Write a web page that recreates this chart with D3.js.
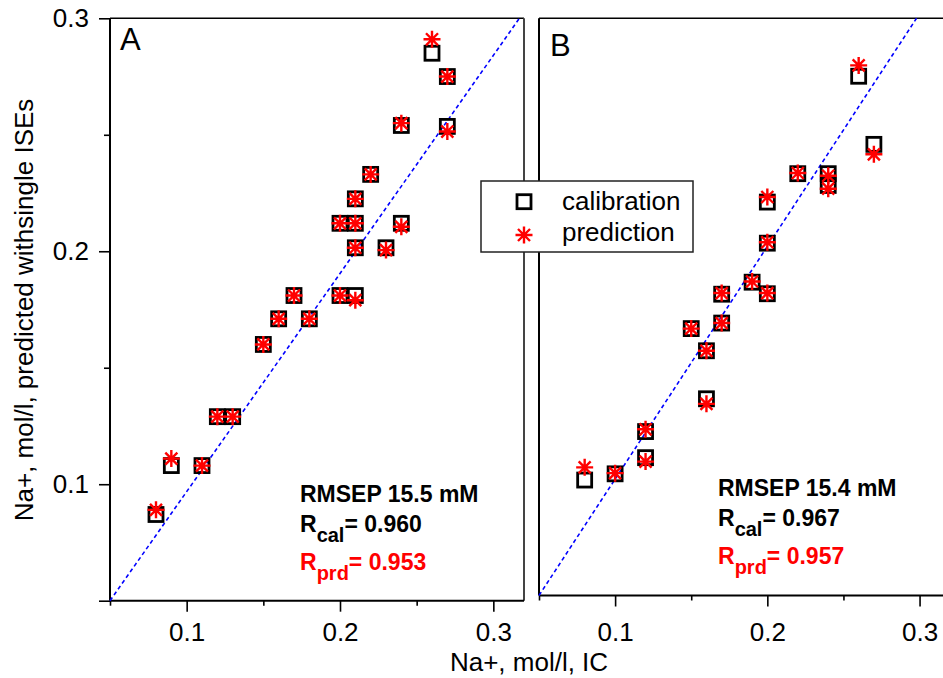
<!DOCTYPE html>
<html>
<head>
<meta charset="utf-8">
<script src="https://cdn.jsdelivr.net/npm/d3@7"></script>
<style>
  body { margin: 0; background: #fff; }
  text { font-family: "Liberation Sans", Arial, sans-serif; }
</style>
</head>
<body>
<div class="chart"></div>
<script>
// two panels: single ISE predictions vs IC reference

var width = 943;
var height = 678;

// panel A - IC value, calibration and prediction
var icA  = [0.08, 0.09, 0.11, 0.12, 0.13, 0.15, 0.16, 0.17, 0.18, 0.20, 0.21,
            0.20, 0.21, 0.21, 0.21, 0.22, 0.23, 0.24, 0.24, 0.26, 0.27, 0.27];
var calA = [0.087, 0.108, 0.108, 0.129, 0.129, 0.160, 0.171, 0.181, 0.171, 0.181, 0.181,
            0.212, 0.212, 0.2225, 0.2015, 0.233, 0.2015, 0.212, 0.254, 0.285, 0.275, 0.2536];
var prdA = [0.089, 0.111, 0.108, 0.129, 0.129, 0.160, 0.171, 0.181, 0.171, 0.181, 0.179,
            0.212, 0.212, 0.2225, 0.2015, 0.233, 0.2005, 0.2105, 0.255, 0.291, 0.275, 0.2514];

// panel B
var icB  = [0.08, 0.10, 0.12, 0.12, 0.16, 0.16, 0.15, 0.17, 0.17, 0.19, 0.20,
            0.20, 0.20, 0.22, 0.24, 0.24, 0.26, 0.27];
var calB = [0.100, 0.1027, 0.121, 0.1097, 0.1352, 0.156, 0.1656, 0.168, 0.1805, 0.1857, 0.1807,
            0.2026, 0.2204, 0.2327, 0.2327, 0.2276, 0.2749, 0.2454];
var prdB = [0.1055, 0.103, 0.122, 0.108, 0.133, 0.156, 0.1656, 0.168, 0.181, 0.186, 0.181,
            0.203, 0.2226, 0.233, 0.2318, 0.2262, 0.2796, 0.2411];

// dashed reference lines (x, y end points)
var lineA = [[0.05, 0.05], [0.317, 0.3]];
var lineB = [[0.05, 0.05], [0.298, 0.3]];

var majorTicks = [0.1, 0.2, 0.3];
var minorTicks = [0.05, 0.15, 0.25];

var statsA = ["RMSEP 15.5 mM", "0.960", "0.953"];
var statsB = ["RMSEP 15.4 mM", "0.967", "0.957"];

var svg = d3.select(".chart").append("svg")
    .attr("width", width)
    .attr("height", height);

var xA = d3.scaleLinear().domain([0.05, 0.32]).range([110, 524]);
var yA = d3.scaleLinear().domain([0.05, 0.3]).range([600.7, 18.3]);
var xB = d3.scaleLinear().domain([0.05, 0.32]).range([539, 950]);
var yB = d3.scaleLinear().domain([0.05, 0.3]).range([595.5, 18.3]);

var fmt = d3.format(".1f");

var styleAxis = function(g){
  g.select(".domain").remove();
  g.selectAll("line").attr("stroke", "#000").attr("stroke-width", 1.6);
  g.selectAll("text").attr("font-size", 26).attr("fill", "#000")
    .style("font-family", "'Liberation Sans', Arial, sans-serif");
};

// ---- panel A axes
var gxA = svg.append("g").attr("transform", "translate(0," + yA(0.05) + ")")
    .call(d3.axisBottom(xA).tickValues(majorTicks).tickSize(11).tickPadding(11).tickFormat(fmt));
styleAxis(gxA);
var gxA2 = svg.append("g").attr("transform", "translate(0," + yA(0.05) + ")")
    .call(d3.axisBottom(xA).tickValues(minorTicks).tickSize(5).tickFormat(""));
styleAxis(gxA2);

var gyA = svg.append("g").attr("transform", "translate(" + xA(0.05) + ",0)")
    .call(d3.axisLeft(yA).tickValues([0.05].concat(majorTicks)).tickSize(11).tickPadding(10)
      .tickFormat(function(d){ return d < 0.06 ? "" : fmt(d); }));
styleAxis(gyA);
var gyA2 = svg.append("g").attr("transform", "translate(" + xA(0.05) + ",0)")
    .call(d3.axisLeft(yA).tickValues([0.15, 0.25]).tickSize(6).tickFormat(""));
styleAxis(gyA2);

// frame A
svg.append("line").attr("x1", xA(0.05)).attr("x2", xA(0.32))
  .attr("y1", yA(0.3)).attr("y2", yA(0.3)).attr("stroke", "#000").attr("stroke-width", 1.6);
svg.append("line").attr("x1", xA(0.32)).attr("x2", xA(0.32))
  .attr("y1", yA(0.3)).attr("y2", yA(0.05)).attr("stroke", "#444").attr("stroke-width", 2);
svg.append("line").attr("x1", xA(0.05)).attr("x2", xA(0.05))
  .attr("y1", yA(0.3)).attr("y2", yA(0.05)).attr("stroke", "#000").attr("stroke-width", 2);
svg.append("line").attr("x1", xA(0.05)).attr("x2", xA(0.32))
  .attr("y1", yA(0.05)).attr("y2", yA(0.05)).attr("stroke", "#000").attr("stroke-width", 2);

// ---- panel B axes
var gxB = svg.append("g").attr("transform", "translate(0," + yB(0.05) + ")")
    .call(d3.axisBottom(xB).tickValues(majorTicks).tickSize(11).tickPadding(16).tickFormat(fmt));
styleAxis(gxB);
var gxB2 = svg.append("g").attr("transform", "translate(0," + yB(0.05) + ")")
    .call(d3.axisBottom(xB).tickValues(minorTicks).tickSize(5).tickFormat(""));
styleAxis(gxB2);

svg.append("line").attr("x1", xB(0.05)).attr("x2", xB(0.32))
  .attr("y1", yB(0.3)).attr("y2", yB(0.3)).attr("stroke", "#000").attr("stroke-width", 1.6);
svg.append("line").attr("x1", xB(0.05)).attr("x2", xB(0.05))
  .attr("y1", yB(0.3)).attr("y2", yB(0.05)).attr("stroke", "#000").attr("stroke-width", 2);
svg.append("line").attr("x1", xB(0.05)).attr("x2", xB(0.32))
  .attr("y1", yB(0.05)).attr("y2", yB(0.05)).attr("stroke", "#000").attr("stroke-width", 2);

// ---- markers
var starPath = function(r){
  var s = "";
  for(var i = 0; i < 4; i++){
    var a = i * Math.PI / 4;
    var dx = r * Math.sin(a), dy = r * Math.cos(a);
    s += "M" + (-dx) + "," + (-dy) + "L" + dx + "," + dy;
  }
  return s;
};

var sq = 14;

var drawPanel = function(x, y, ic, cal, prd, line){
  var g = svg.append("g");

  g.append("path")
    .attr("d", d3.line().x(function(d){ return x(d[0]); }).y(function(d){ return y(d[1]); })(line))
    .attr("fill", "none").attr("stroke", "#0000ff").attr("stroke-width", 1.6)
    .attr("stroke-dasharray", "4,3");

  g.selectAll("rect.cal").data(ic).enter().append("rect")
    .attr("class", "cal")
    .attr("x", function(d){ return x(d) - sq / 2; })
    .attr("y", function(d, i){ return y(cal[i]) - sq / 2; })
    .attr("width", sq).attr("height", sq)
    .attr("fill", "none").attr("stroke", "#000").attr("stroke-width", 2.8);

  g.selectAll("path.prd").data(ic).enter().append("path")
    .attr("class", "prd")
    .attr("transform", function(d, i){ return "translate(" + x(d) + "," + y(prd[i]) + ")"; })
    .attr("d", starPath(8.5))
    .attr("stroke", "#ff0000").attr("stroke-width", 2.4).attr("fill", "none");
};

drawPanel(xA, yA, icA, calA, prdA, lineA);
drawPanel(xB, yB, icB, calB, prdB, lineB);

// ---- panel letters
svg.append("text").attr("x", 120).attr("y", 50).attr("font-size", 31).text("A");
svg.append("text").attr("x", 550).attr("y", 56).attr("font-size", 31).text("B");

// ---- stats
var drawStats = function(x0, y0, stats){
  svg.append("text").attr("x", x0).attr("y", y0)
    .attr("font-size", 23).attr("font-weight", "bold").text(stats[0]);

  var t1 = svg.append("text").attr("x", x0).attr("y", y0 + 30)
    .attr("font-size", 23).attr("font-weight", "bold");
  t1.append("tspan").text("R");
  t1.append("tspan").attr("dy", 10).attr("font-size", 20).text("cal");
  t1.append("tspan").attr("dy", -10).text("= " + stats[1]);

  var t2 = svg.append("text").attr("x", x0).attr("y", y0 + 68)
    .attr("font-size", 23).attr("font-weight", "bold").attr("fill", "#ff0000");
  t2.append("tspan").text("R");
  t2.append("tspan").attr("dy", 10).attr("font-size", 20).text("prd");
  t2.append("tspan").attr("dy", -10).text("= " + stats[2]);
};
drawStats(300, 501.7, statsA);
drawStats(718, 495.7, statsB);

// ---- legend
var leg = svg.append("g");
leg.append("rect").attr("x", 481).attr("y", 181).attr("width", 212).attr("height", 71)
  .attr("fill", "#fff").attr("stroke", "#222").attr("stroke-width", 1.5);
leg.append("rect").attr("x", 524 - sq / 2).attr("y", 201.7 - sq / 2).attr("width", sq).attr("height", sq)
  .attr("fill", "none").attr("stroke", "#000").attr("stroke-width", 2.8);
leg.append("path").attr("transform", "translate(524,235)").attr("d", starPath(8.5))
  .attr("stroke", "#ff0000").attr("stroke-width", 2.4);
leg.append("text").attr("x", 562).attr("y", 210).attr("font-size", 26).text("calibration");
leg.append("text").attr("x", 562).attr("y", 241).attr("font-size", 26).text("prediction");

// ---- axis titles
svg.append("text").attr("x", 529).attr("y", 671).attr("text-anchor", "middle")
  .attr("font-size", 26).text("Na+, mol/l, IC");
svg.append("text").attr("transform", "translate(33,310) rotate(-90)")
  .attr("text-anchor", "middle").attr("font-size", 26)
  .text("Na+, mol/l, predicted withsingle ISEs");
</script>
</body>
</html>
